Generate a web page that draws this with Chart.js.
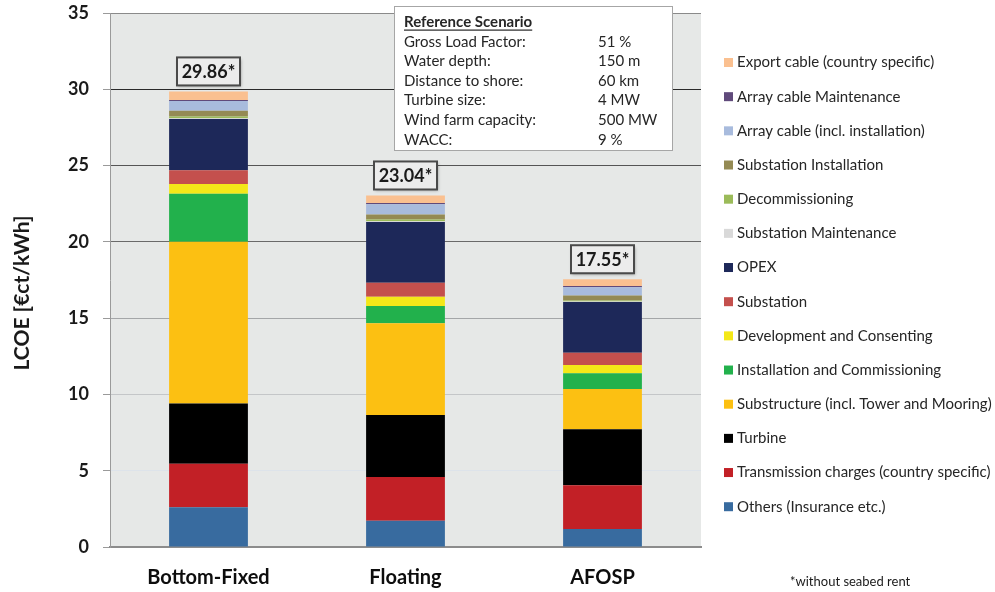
<!DOCTYPE html>
<html>
<head>
<meta charset="utf-8">
<script src="https://cdn.jsdelivr.net/npm/chart.js@4.4.1/dist/chart.umd.min.js"></script>
<style>
  html, body { margin: 0; padding: 0; background: #fff; }
  #wrap { width: 995px; height: 592px; position: relative; }
</style>
</head>
<body>
<div id="wrap"><canvas id="c" width="995" height="592"></canvas></div>
<script>
// LCOE breakdown per concept, ct/kWh (stack order bottom → top)
const categories = ['Bottom-Fixed', 'Floating', 'AFOSP'];
const others          = [2.60, 1.72, 1.18];
const transmission    = [2.85, 2.87, 2.86];
const turbine         = [3.95, 4.06, 3.67];
const substructure    = [10.60, 6.01, 2.64];
const installation    = [3.15, 1.13, 1.03];
const development     = [0.65, 0.61, 0.55];
const substation      = [0.90, 0.92, 0.80];
const opex            = [3.35, 3.98, 3.32];
const substationMaint = [0.05, 0.05, 0.04];
const decommissioning = [0.12, 0.12, 0.06];
const substationInst  = [0.37, 0.33, 0.33];
const arrayCable      = [0.65, 0.67, 0.55];
const arrayCableMaint = [0.06, 0.07, 0.08];
const exportCable     = [0.56, 0.50, 0.44];

const yTicks = [0, 5, 10, 15, 20, 25, 30, 35];
const yTitle = 'LCOE [€ct/kWh]';

const scenarioTitle = 'Reference Scenario';
const scenarioKeys = ['Gross Load Factor:', 'Water depth:', 'Distance to shore:', 'Turbine size:', 'Wind farm capacity:', 'WACC:'];
const scenarioVals = ['51 %', '150 m', '60 km', '4 MW', '500 MW', '9 %'];

const FONT = 'Lato, "Open Sans", sans-serif';

const series = [
  { label: 'Others (Insurance etc.)', data: others, color: '#386b9f' },
  { label: 'Transmission charges (country specific)', data: transmission, color: '#c22026' },
  { label: 'Turbine', data: turbine, color: '#000000' },
  { label: 'Substructure (incl. Tower and Mooring)', data: substructure, color: '#fcc012' },
  { label: 'Installation and Commissioning', data: installation, color: '#22b14c' },
  { label: 'Development and Consenting', data: development, color: '#f4e818' },
  { label: 'Substation', data: substation, color: '#c4504d' },
  { label: 'OPEX', data: opex, color: '#1d2859' },
  { label: 'Substation Maintenance', data: substationMaint, color: '#d9d9d9' },
  { label: 'Decommissioning', data: decommissioning, color: '#9bbb59' },
  { label: 'Substation Installation', data: substationInst, color: '#948a54' },
  { label: 'Array cable (incl. installation)', data: arrayCable, color: '#a8bbdd' },
  { label: 'Array cable Maintenance', data: arrayCableMaint, color: '#604a7b' },
  { label: 'Export cable (country specific)', data: exportCable, color: '#fac090' }
];

// grey plot background behind the grid
const plotBackground = {
  id: 'plotBackground',
  beforeDraw(chart) {
    const { ctx, chartArea: a } = chart;
    ctx.save();
    ctx.fillStyle = '#e6e8e7';
    ctx.fillRect(a.left, a.top, a.right - a.left, a.bottom - a.top);
    ctx.restore();
  }
};

// boxed total above each stack
const totalLabels = {
  id: 'totalLabels',
  afterDatasetsDraw(chart) {
    const { ctx } = chart;
    const y = chart.scales.y;
    const lastMeta = chart.getDatasetMeta(chart.data.datasets.length - 1);
    categories.forEach((cat, i) => {
      let sum = 0;
      chart.data.datasets.forEach(ds => { sum += ds.data[i]; });
      const total = Math.round(sum * 100) / 100;
      const text = total.toFixed(2) + '*';
      const cx = lastMeta.data[i].x;
      const top = y.getPixelForValue(total);
      const w = 63, h = 28;
      const bx = cx - w / 2, by = top - 6 - h;
      ctx.save();
      ctx.shadowColor = 'rgba(0,0,0,0.35)';
      ctx.shadowBlur = 3;
      ctx.shadowOffsetX = 1;
      ctx.shadowOffsetY = 2;
      ctx.fillStyle = '#ececec';
      ctx.fillRect(bx, by, w, h);
      ctx.restore();
      ctx.save();
      ctx.strokeStyle = '#4a4a4a';
      ctx.lineWidth = 2;
      ctx.strokeRect(bx, by, w, h);
      ctx.fillStyle = '#1a1a1a';
      ctx.font = 'bold 18px ' + FONT;
      ctx.textAlign = 'center';
      ctx.textBaseline = 'middle';
      ctx.fillText(text, cx, by + h / 2 + 1);
      ctx.restore();
    });
  }
};

// legend column on the right, top entry = top of stack
const sideLegend = {
  id: 'sideLegend',
  afterDraw(chart) {
    const { ctx } = chart;
    const items = chart.data.datasets.slice().reverse();
    ctx.save();
    ctx.font = '15px ' + FONT;
    ctx.textBaseline = 'middle';
    ctx.textAlign = 'left';
    items.forEach((ds, k) => {
      const yc = 62.5 + k * 34.17;
      ctx.fillStyle = ds.backgroundColor;
      ctx.fillRect(724, yc - 4.5, 9, 9);
      ctx.fillStyle = '#262626';
      ctx.fillText(ds.label, 737, yc);
    });
    ctx.restore();
  }
};

// rotated y-axis title
const axisTitle = {
  id: 'axisTitle',
  afterDraw(chart) {
    const { ctx } = chart;
    ctx.save();
    ctx.translate(22, 293);
    ctx.rotate(-Math.PI / 2);
    ctx.font = 'bold 21px ' + FONT;
    ctx.fillStyle = '#1a1a1a';
    ctx.textAlign = 'center';
    ctx.textBaseline = 'middle';
    ctx.fillText(yTitle, 0, 0);
    ctx.restore();
  }
};

// scenario parameter box and footnote
const scenarioBox = {
  id: 'scenarioBox',
  afterDraw(chart) {
    const { ctx } = chart;
    ctx.save();
    ctx.fillStyle = '#ffffff';
    ctx.fillRect(394, 6, 278, 144);
    ctx.strokeStyle = '#a6a6a6';
    ctx.lineWidth = 1;
    ctx.strokeRect(394.5, 6.5, 278, 144);
    ctx.fillStyle = '#262626';
    ctx.textBaseline = 'middle';
    ctx.textAlign = 'left';
    ctx.font = 'bold 15px ' + FONT;
    ctx.fillText(scenarioTitle, 404, 22);
    const tw = ctx.measureText(scenarioTitle).width;
    ctx.fillRect(404, 29.5, tw, 1.2);
    ctx.font = '15px ' + FONT;
    scenarioKeys.forEach((k, i) => {
      const yc = 41.7 + i * 19.6;
      ctx.fillText(k, 404, yc);
      ctx.fillText(scenarioVals[i], 598, yc);
    });
    ctx.font = '13px ' + FONT;
    ctx.fillStyle = '#1a1a1a';
    ctx.fillText('*without seabed rent', 790, 582);
    ctx.restore();
  }
};

const gridColors = { 0: 'rgba(0,0,0,0)', 5: '#dde3ea', 10: '#c4c6c8', 15: '#a4a6a8', 20: '#6a6a6a', 25: '#555555', 30: '#2a2a2a', 35: '#8a8a8a' };

new Chart(document.getElementById('c'), {
  type: 'bar',
  data: {
    labels: categories,
    datasets: series.map(s => ({
      label: s.label,
      data: s.data,
      backgroundColor: s.color,
      borderWidth: 0,
      barPercentage: 0.4,
      categoryPercentage: 1.0
    }))
  },
  options: {
    responsive: false,
    animation: false,
    layout: { padding: { left: 0, top: 13, right: 294, bottom: 0 } },
    plugins: { legend: { display: false }, tooltip: { enabled: false } },
    scales: {
      x: {
        stacked: true,
        grid: { display: false },
        border: { display: true, color: '#8c8c8c', width: 2 },
        ticks: { color: '#0d0d0d', font: { family: FONT, size: 20, weight: 'bold' }, padding: 11 },
        afterFit(s) { s.height = 45; s.paddingLeft = 0; s.paddingRight = 0; }
      },
      y: {
        stacked: true,
        min: 0,
        max: 35,
        afterBuildTicks(s) { s.ticks = yTicks.map(v => ({ value: v })); },
        grid: {
          color: c => gridColors[c.tick.value] || '#999',
          lineWidth: 1,
          tickLength: 7,
          tickColor: '#9a9a9a'
        },
        border: { display: true, color: '#9a9a9a', width: 1 },
        ticks: { color: '#1a1a1a', font: { family: FONT, size: 18, weight: 'bold' }, padding: 14 },
        afterFit(s) { s.width = 110; s.paddingTop = 0; s.paddingBottom = 0; }
      }
    }
  },
  plugins: [plotBackground, totalLabels, sideLegend, axisTitle, scenarioBox]
});
</script>
</body>
</html>
